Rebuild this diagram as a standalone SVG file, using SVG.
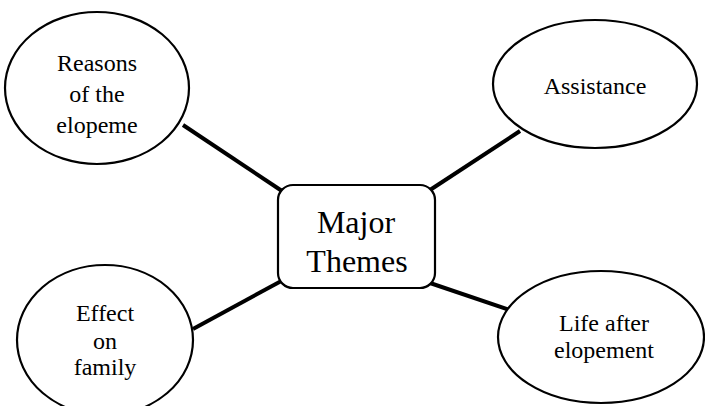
<svg xmlns="http://www.w3.org/2000/svg" width="705" height="406" viewBox="0 0 705 406">
<style>
.node{fill:#fff;stroke:#000;stroke-width:2.2}
text{font-family:'Liberation Serif','Times New Roman',Times,serif;font-size:24px;fill:#000;text-anchor:middle}
.big{font-size:32px}
.conn{stroke:#000;stroke-width:4;fill:none;stroke-linecap:butt}
</style>
<rect width="705" height="406" fill="#fff"/>
<g id="connectors">
<line class="conn" x1="183" y1="125" x2="282" y2="191"/>
<line class="conn" x1="520" y1="131" x2="430" y2="190"/>
<line class="conn" x1="193" y1="329" x2="285" y2="279"/>
<line class="conn" x1="430" y1="283" x2="510" y2="310"/>
</g>
<g id="reasons">
<ellipse class="node" cx="97" cy="88" rx="92" ry="76"/>
<text x="97" y="71">Reasons</text>
<text x="97" y="102">of the</text>
<text x="97" y="133">elopeme</text>
</g>
<g id="assistance">
<ellipse class="node" cx="595" cy="84" rx="102" ry="64"/>
<text x="595" y="94">Assistance</text>
</g>
<g id="effect">
<ellipse class="node" cx="105" cy="340" rx="88" ry="75"/>
<text x="105" y="321">Effect</text>
<text x="105" y="349">on</text>
<text x="105" y="375">family</text>
</g>
<g id="life">
<ellipse class="node" cx="601" cy="337" rx="103" ry="66"/>
<text x="604" y="331">Life after</text>
<text x="604" y="358">elopement</text>
</g>
<g id="major">
<rect class="node" x="278" y="185" width="157" height="103" rx="15" ry="15"/>
<text class="big" x="356" y="233">Major</text>
<text class="big" x="357" y="272">Themes</text>
</g>
</svg>
